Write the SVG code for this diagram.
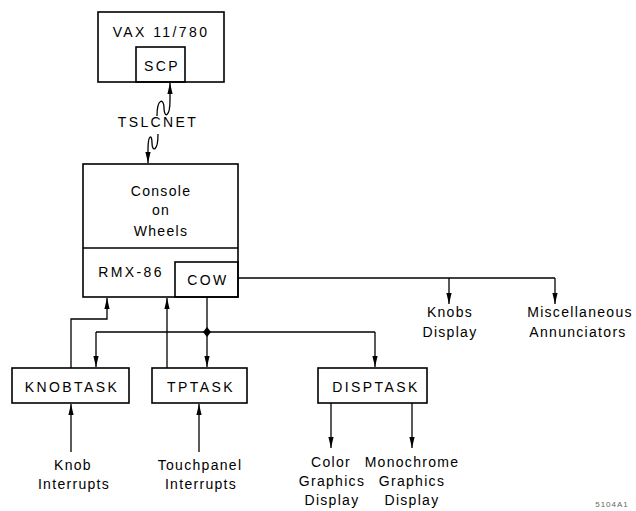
<svg xmlns="http://www.w3.org/2000/svg" width="636" height="511" viewBox="0 0 636 511">
<style>
  .box{fill:none;stroke:#000;stroke-width:1.6}
  .ln{fill:none;stroke:#000;stroke-width:1.3}
  .t{font-family:"Liberation Sans",Arial,sans-serif;font-size:14px;letter-spacing:2.4px;fill:#000;text-anchor:middle}
  .s{font-family:"Liberation Sans",Arial,sans-serif;font-size:14px;letter-spacing:1.3px;fill:#000;text-anchor:middle}
</style>
<defs>
  <marker id="a" viewBox="0 0 11 6" refX="11" refY="3" markerWidth="11" markerHeight="6" orient="auto" markerUnits="userSpaceOnUse">
    <path d="M0,0.4 L11,3 L0,5.6 Z" fill="#000"/>
  </marker>
</defs>
<rect width="636" height="511" fill="#fff"/>

<g id="vax">
  <rect class="box" x="98" y="12" width="126" height="70"/>
  <text class="t" x="161" y="37">VAX 11/780</text>
</g>
<g id="scp">
  <rect class="box" x="136" y="47" width="49" height="35"/>
  <text class="t" x="162" y="71">SCP</text>
</g>
<g id="tslcnet">
  <text class="t" x="158" y="127">TSLCNET</text>
</g>
<g id="console">
  <rect class="box" x="83" y="164" width="155" height="133"/>
  <line class="box" x1="83" y1="248" x2="238" y2="248"/>
  <text class="s" x="161" y="196">Console</text>
  <text class="s" x="161" y="215">on</text>
  <text class="s" x="161" y="236">Wheels</text>
  <text class="t" x="131" y="277">RMX-86</text>
</g>
<g id="cow">
  <rect class="box" x="175" y="262" width="63" height="35"/>
  <text class="t" x="208" y="285">COW</text>
</g>
<g id="knobtask">
  <rect class="box" x="12" y="368" width="117" height="35"/>
  <text class="t" x="72" y="392">KNOBTASK</text>
</g>
<g id="tptask">
  <rect class="box" x="152" y="368" width="95" height="35"/>
  <text class="t" x="201" y="392">TPTASK</text>
</g>
<g id="disptask">
  <rect class="box" x="318" y="368" width="109" height="35"/>
  <text class="t" x="376" y="392">DISPTASK</text>
</g>
<g id="labels">
  <text class="s" x="450" y="317">Knobs</text>
  <text class="s" x="450" y="337">Display</text>
  <text class="s" x="580" y="317">Miscellaneous</text>
  <text class="s" x="578" y="337">Annunciators</text>
  <text class="s" x="73" y="470">Knob</text>
  <text class="s" x="74" y="489">Interrupts</text>
  <text class="s" x="200" y="470">Touchpanel</text>
  <text class="s" x="201" y="489">Interrupts</text>
  <text class="s" x="331" y="467">Color</text>
  <text class="s" x="332" y="486">Graphics</text>
  <text class="s" x="332" y="505">Display</text>
  <text class="s" x="412" y="467">Monochrome</text>
  <text class="s" x="412" y="486">Graphics</text>
  <text class="s" x="412" y="505">Display</text>
  <text x="612" y="507" font-family="Liberation Sans,Arial,sans-serif" font-size="8" fill="#666" text-anchor="middle" letter-spacing="1">5104A1</text>
</g>
<g id="connectors">
  <path class="ln" d="M157 116 C157 98 164 98 164 108 C164 118 170 118 170 100 L170 83" marker-end="url(#a)"/>
  <path class="ln" d="M158 134 C158 152 152 152 152 143 C152 134 148 134 148 150 L148 163" marker-end="url(#a)"/>
  <path class="ln" d="M238 278 H555"/>
  <path class="ln" d="M449 278 V304" marker-end="url(#a)"/>
  <path class="ln" d="M555 278 V304" marker-end="url(#a)"/>
  <path class="ln" d="M71 368 V319 H107 V298" marker-end="url(#a)"/>
  <path class="ln" d="M167 368 V298" marker-end="url(#a)"/>
  <path class="ln" d="M207 297 V367" marker-end="url(#a)"/>
  <path class="ln" d="M96 332 H375"/>
  <path class="ln" d="M96 332 V367" marker-end="url(#a)"/>
  <path class="ln" d="M375 332 V367" marker-end="url(#a)"/>
  <path d="M207 327 L211 332 L207 337 L203 332 Z" fill="#000"/>
  <path class="ln" d="M71 452 V404" marker-end="url(#a)"/>
  <path class="ln" d="M199 452 V404" marker-end="url(#a)"/>
  <path class="ln" d="M331 403 V448" marker-end="url(#a)"/>
  <path class="ln" d="M412 403 V448" marker-end="url(#a)"/>
</g>
</svg>
